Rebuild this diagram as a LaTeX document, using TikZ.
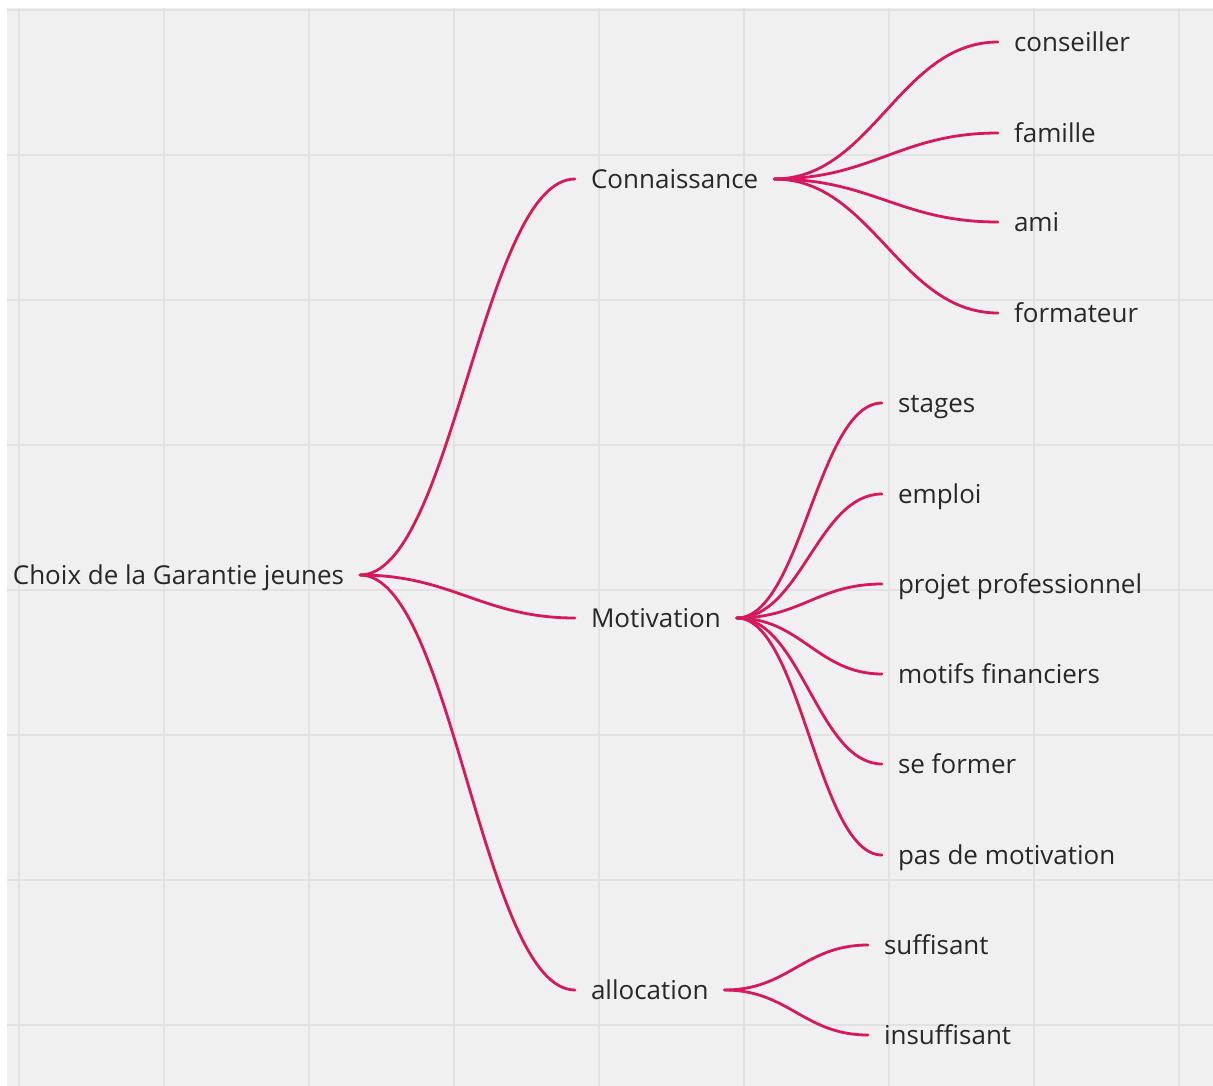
\documentclass[tikz,border=0pt]{standalone}
\usepackage{fontspec}
\setmainfont{Open Sans}
\definecolor{mmred}{RGB}{214,24,94}
\definecolor{mmtext}{RGB}{40,40,40}
\definecolor{mmback}{RGB}{240,240,240}
\definecolor{mmgrid}{RGB}{226,226,226}
\tikzset{
idea/.style = {text=mmtext, font=\fontsize{26}{30}\selectfont,
               inner xsep=16pt, inner ysep=0pt, outer sep=0pt,
               text height=18.6pt, text depth=0pt},
branch/.style = {draw=mmred, line width=2.8pt, line cap=round},
gridline/.style = {draw=mmgrid, line width=1.5pt}
}

\begin{document}
\begin{tikzpicture}[x=1pt, y=-1pt]
	\def \hwide{92}  % control length, first level
	\def \hmid{98}   % control length, Connaissance
	\def \hsmall{64} % control length, Motivation / allocation

	\useasboundingbox (0,0) rectangle (1213,1086);
	\fill[white] (0,0) rectangle (1213,1086);
	\fill[mmback] (7,8) rectangle (1213,1086);

	% Grid, vertical
	\draw[gridline] (19,8)   -- (19,1086);
	\draw[gridline] (164,8)  -- (164,1086);
	\draw[gridline] (309,8)  -- (309,1086);
	\draw[gridline] (454,8)  -- (454,1086);
	\draw[gridline] (599,8)  -- (599,1086);
	\draw[gridline] (744,8)  -- (744,1086);
	\draw[gridline] (889,8)  -- (889,1086);
	\draw[gridline] (1034,8) -- (1034,1086);
	\draw[gridline] (1179,8) -- (1179,1086);

	% Grid, horizontal
	\draw[gridline] (7,10)   -- (1213,10);
	\draw[gridline] (7,155)  -- (1213,155);
	\draw[gridline] (7,300)  -- (1213,300);
	\draw[gridline] (7,445)  -- (1213,445);
	\draw[gridline] (7,590)  -- (1213,590);
	\draw[gridline] (7,735)  -- (1213,735);
	\draw[gridline] (7,880)  -- (1213,880);
	\draw[gridline] (7,1025) -- (1213,1025);

	% Root
	\node[idea, anchor=east] (choix) at (360,575) {Choix de la Garantie jeunes};

	% First level
	\node[idea, anchor=west] (conn)  at (575,179) {Connaissance};
	\node[idea, anchor=west] (motiv) at (575,618) {Motivation};
	\node[idea, anchor=west] (alloc) at (575,990) {allocation};

	% Connaissance
	\node[idea, anchor=west] (conseiller) at (998,42)  {conseiller};
	\node[idea, anchor=west] (famille)    at (998,133) {famille};
	\node[idea, anchor=west] (ami)        at (998,222) {ami};
	\node[idea, anchor=west] (formateur)  at (998,313) {formateur};

	% Motivation
	\node[idea, anchor=west] (stages)  at (882,403) {stages};
	\node[idea, anchor=west] (emploi)  at (882,494) {emploi};
	\node[idea, anchor=west] (projet)  at (882,584) {projet professionnel};
	\node[idea, anchor=west] (motifs)  at (882,674) {motifs financiers};
	\node[idea, anchor=west] (former)  at (882,764) {se former};
	\node[idea, anchor=west] (pasmot)  at (882,855) {pas de motivation};

	% allocation
	\node[idea, anchor=west] (suff)   at (868,945)  {suffisant};
	\node[idea, anchor=west] (insuff) at (868,1035) {insuffisant};

	% Branches
	\draw[branch] (choix.east) .. controls +(\hwide,0) and +(-\hwide,0) .. (conn.west);
	\draw[branch] (choix.east) .. controls +(\hwide,0) and +(-\hwide,0) .. (motiv.west);
	\draw[branch] (choix.east) .. controls +(\hwide,0) and +(-\hwide,0) .. (alloc.west);

	\draw[branch] (conn.east) .. controls +(\hmid,0) and +(-\hmid,0) .. (conseiller.west);
	\draw[branch] (conn.east) .. controls +(\hmid,0) and +(-\hmid,0) .. (famille.west);
	\draw[branch] (conn.east) .. controls +(\hmid,0) and +(-\hmid,0) .. (ami.west);
	\draw[branch] (conn.east) .. controls +(\hmid,0) and +(-\hmid,0) .. (formateur.west);

	\draw[branch] (motiv.east) .. controls +(\hsmall,0) and +(-\hsmall,0) .. (stages.west);
	\draw[branch] (motiv.east) .. controls +(\hsmall,0) and +(-\hsmall,0) .. (emploi.west);
	\draw[branch] (motiv.east) .. controls +(\hsmall,0) and +(-\hsmall,0) .. (projet.west);
	\draw[branch] (motiv.east) .. controls +(\hsmall,0) and +(-\hsmall,0) .. (motifs.west);
	\draw[branch] (motiv.east) .. controls +(\hsmall,0) and +(-\hsmall,0) .. (former.west);
	\draw[branch] (motiv.east) .. controls +(\hsmall,0) and +(-\hsmall,0) .. (pasmot.west);

	\draw[branch] (alloc.east) .. controls +(\hsmall,0) and +(-\hsmall,0) .. (suff.west);
	\draw[branch] (alloc.east) .. controls +(\hsmall,0) and +(-\hsmall,0) .. (insuff.west);

\end{tikzpicture}
\end{document}
